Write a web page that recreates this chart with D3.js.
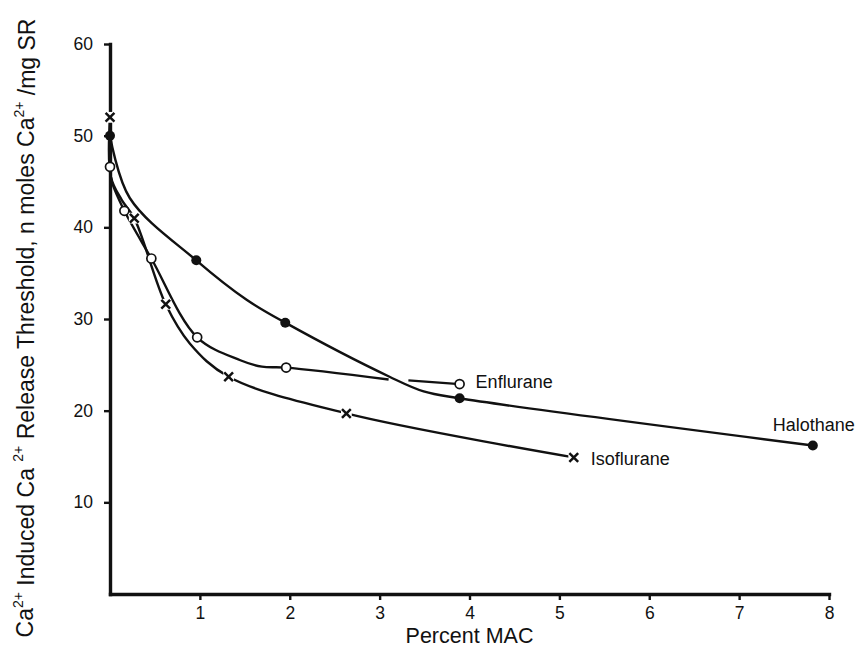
<!DOCTYPE html>
<html>
<head>
<meta charset="utf-8">
<script src="https://cdn.jsdelivr.net/npm/d3@7"></script>
<style>
  html, body { margin: 0; padding: 0; background: #fff; }
  svg { display: block; }
  text { font-family: "Liberation Sans", Arial, Helvetica, sans-serif; fill: #111; }
</style>
</head>
<body>
<svg id="chart" width="859" height="666"></svg>
<script>
// ---- data ----
const xTicks = [1, 2, 3, 4, 5, 6, 7, 8];
const yTicks = [10, 20, 30, 40, 50, 60];

// measured points (markers)
const halothaneX = [0, 0.96, 1.95, 3.89, 7.82];
const halothaneY = [50, 36.4, 29.6, 21.35, 16.2];
const enfluraneX = [0, 0.16, 0.46, 0.97, 1.96, 3.89];
const enfluraneY = [46.6, 41.8, 36.6, 28.0, 24.7, 22.9];
const isofluraneX = [0, 0.27, 0.62, 1.32, 2.63, 5.16];
const isofluraneY = [52, 41.0, 31.6, 23.7, 19.7, 14.9];

// hand-drawn curve traces (vertices; null = break in the line)
const halothaneTraceX = [0, 0.22, 0.96, 1.52, 1.95, 3.11, 3.49, 3.89, 7.82];
const halothaneTraceY = [50, 43.2, 36.4, 32.1, 29.6, 23.7, 22.1, 21.35, 16.2];
const enfluraneTraceX = [0, 0.02, 0.16, 0.46, 0.97, 1.45, 1.69, 1.96, 3.10, null, 3.32, 3.89];
const enfluraneTraceY = [46.6, 45.0, 41.8, 36.6, 28.0, 25.5, 24.8, 24.7, 23.4, null, 23.3, 22.9];
const isofluraneTraceX = [0, 0.01, 0.13, 0.27, 0.62, 0.89, 1.32, 2.63, 5.16];
const isofluraneTraceY = [52, 45.5, 43.0, 41.0, 31.6, 27.3, 23.7, 19.7, 14.9];

const seriesNames = ["Halothane", "Enflurane", "Isoflurane"];

// ---- layout ----
const svg = d3.select("#chart");
const x = d3.scaleLinear().domain([0, 8]).range([110, 829]);
const y = d3.scaleLinear().domain([0, 60]).range([594, 44]);

const toPts = (xs, ys) => xs.map((v, i) => ({ x: v, y: ys[i] }));

// axes
const yAxis = d3.axisLeft(y).tickValues(yTicks).tickSize(6).tickSizeOuter(0).tickPadding(11);
const xAxis = d3.axisBottom(x).tickValues(xTicks).tickSize(6).tickSizeOuter(0).tickPadding(7);

const gy = svg.append("g").attr("transform", "translate(110,0)").call(yAxis);
const gx = svg.append("g").attr("transform", "translate(0,594)").call(xAxis);

[gy, gx].forEach(g => {
  g.select(".domain").attr("stroke", "#111").attr("stroke-width", 3.4).attr("stroke-linecap", "square");
  g.selectAll(".tick line").attr("stroke", "#111").attr("stroke-width", 2.4);
  g.selectAll(".tick text").attr("font-size", 17.5).attr("fill", "#111")
    .style("font-family", '"Liberation Sans", Arial, sans-serif');
});

// lines
const line = d3.line()
  .defined(d => d.x !== null)
  .x(d => x(d.x)).y(d => y(d.y))
  .curve(d3.curveCatmullRom.alpha(0.5));

const traces = [
  toPts(halothaneTraceX, halothaneTraceY),
  toPts(enfluraneTraceX, enfluraneTraceY),
  toPts(isofluraneTraceX, isofluraneTraceY)
];
svg.append("g").selectAll("path").data(traces).join("path")
  .attr("d", line)
  .attr("fill", "none")
  .attr("stroke", "#111")
  .attr("stroke-width", 2.4)
  .attr("stroke-linejoin", "round");

// markers
const halo = toPts(halothaneX, halothaneY);
const enf = toPts(enfluraneX, enfluraneY);
const iso = toPts(isofluraneX, isofluraneY);

svg.append("g").selectAll("circle").data(halo).join("circle")
  .attr("cx", d => x(d.x)).attr("cy", d => y(d.y)).attr("r", 5)
  .attr("fill", "#111");

svg.append("g").selectAll("circle").data(enf).join("circle")
  .attr("cx", d => x(d.x)).attr("cy", d => y(d.y)).attr("r", 4.5)
  .attr("fill", "#fff").attr("stroke", "#111").attr("stroke-width", 1.7);

const xs = 4.4;
const gIso = svg.append("g").selectAll("g").data(iso).join("g")
  .attr("transform", d => `translate(${x(d.x)},${y(d.y)})`);
gIso.append("rect").attr("x", -xs - 1).attr("y", -xs - 1).attr("width", 2 * xs + 2).attr("height", 2 * xs + 2)
  .attr("fill", "#fff");
gIso.append("path")
  .attr("d", `M${-xs},${-xs}L${xs},${xs}M${-xs},${xs}L${xs},${-xs}`)
  .attr("stroke", "#111").attr("stroke-width", 2.5).attr("fill", "none");

// series labels, placed next to last points
const lastPts = [halo[halo.length - 1], enf[enf.length - 1], iso[iso.length - 1]];
const labelOffsets = [[-40, -15], [16, 4], [17, 8]];
svg.append("g").selectAll("text").data(seriesNames).join("text")
  .attr("x", (d, i) => x(lastPts[i].x) + labelOffsets[i][0])
  .attr("y", (d, i) => y(lastPts[i].y) + labelOffsets[i][1])
  .attr("font-size", 18)
  .text(d => d);

// axis titles
svg.append("text")
  .attr("x", (x(0) + x(8)) / 2).attr("y", 643)
  .attr("text-anchor", "middle").attr("font-size", 21.5)
  .text("Percent MAC");

const yt = svg.append("text")
  .attr("transform", "translate(33,328) rotate(-90)")
  .attr("text-anchor", "middle").attr("font-size", 23);
const parts = [
  ["Ca", false], ["2+", true], [" Induced  Ca ", false], ["2+", true],
  [" Release Threshold,  n moles Ca", false], ["2+", true], [" /mg SR", false]
];
parts.forEach(([t, sup]) => {
  const ts = yt.append("tspan").text(t);
  if (sup) ts.attr("font-size", 14).attr("dy", "-0.75em");
  else ts.attr("dy", yt.selectAll("tspan").size() > 1 ? "0.48em" : null);
});
</script>
</body>
</html>
